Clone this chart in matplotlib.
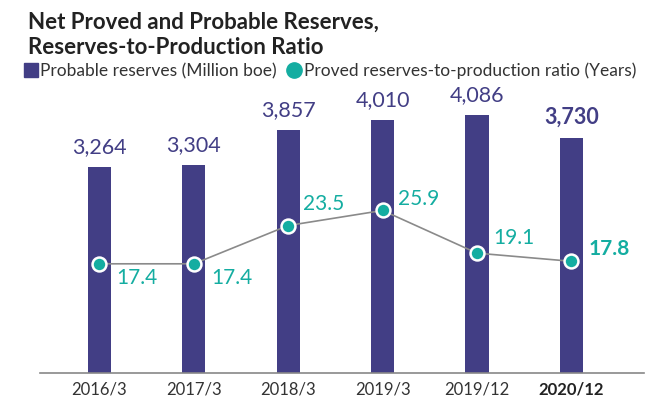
import matplotlib
matplotlib.use("Agg")
import matplotlib.pyplot as plt
from matplotlib.lines import Line2D

plt.rcParams['font.family'] = ['Lato', 'DejaVu Sans']

categories = ["2016/3", "2017/3", "2018/3", "2019/3", "2019/12", "2020/12"]
reserves = [3264, 3304, 3857, 4010, 4086, 3730]
ratio = [17.4, 17.4, 23.5, 25.9, 19.1, 17.8]
reserve_labels = ["3,264", "3,304", "3,857", "4,010", "4,086", "3,730"]
ratio_labels = ["17.4", "17.4", "23.5", "25.9", "19.1", "17.8"]
ratio_offsets = [(17, -14), (17, -14), (15, 22), (15, 11), (16, 15), (17, 12)]

BAR = "#423E85"
TEAL = "#14ADA1"
LINE = "#8A8A8A"

W, H = 668, 403
fig = plt.figure(figsize=(W / 100, H / 100), dpi=100)
left, right, bottom, top = 40, 644, 373, 95
ax = fig.add_axes([left / W, 1 - bottom / H, (right - left) / W, (bottom - top) / H])

x = list(range(len(categories)))
ax.bar(x, reserves, width=0.245, color=BAR, zorder=2)
ax.set_xlim(-0.63, 5.77)
ax.set_ylim(0, 4406)
for i, (v, s) in enumerate(zip(reserves, reserve_labels)):
    last = i == len(categories) - 1
    ax.annotate(s, (i, v), xytext=(0, 7), textcoords="offset points",
                ha="center", va="bottom", fontsize=15.5, color=BAR,
                fontweight="bold" if last else "normal")

for side in ["top", "right", "left"]:
    ax.spines[side].set_visible(False)
ax.spines["bottom"].set_color("#888888")
ax.spines["bottom"].set_linewidth(1.2)
ax.set_yticks([])
ax.set_xticks(x)
ax.set_xticklabels(categories, fontsize=12, color="#333333")
ax.tick_params(axis="x", length=0, pad=6)
ax.get_xticklabels()[-1].set_fontweight("bold")
ax.get_xticklabels()[-1].set_color("#222222")

ax2 = ax.twinx()
ax2.set_ylim(0, 44.3)
ax2.axis("off")
ax2.plot(x, ratio, color=LINE, lw=1.2, zorder=3)
ax2.plot(x, ratio, linestyle="none", marker="o", markersize=10,
         markerfacecolor=TEAL, markeredgecolor="white", markeredgewidth=1.8, zorder=4)
for i, (v, s) in enumerate(zip(ratio, ratio_labels)):
    last = i == len(categories) - 1
    dx, dy = ratio_offsets[i]
    ax2.annotate(s, (i, v), xytext=(dx * 0.72, dy * 0.72), textcoords="offset points",
                 ha="left", va="center", fontsize=15, color=TEAL,
                 fontweight="bold" if last else "normal")

fig.text(28 / W, 1 - 29 / H, "Net Proved and Probable Reserves,",
         fontsize=16, fontweight="bold", color="#222222", ha="left", va="baseline")
fig.text(28 / W, 1 - 54 / H, "Reserves-to-Production Ratio",
         fontsize=16, fontweight="bold", color="#222222", ha="left", va="baseline")

handles = [
    Line2D([], [], marker="s", linestyle="none", markersize=10, color=BAR),
    Line2D([], [], marker="o", linestyle="none", markersize=11, color=TEAL),
]
fig.legend(handles, ["Probable reserves (Million boe)", "Proved reserves-to-production ratio (Years)"],
           loc="center left", bbox_to_anchor=(24 / W, 1 - 71 / H), ncol=2, frameon=False,
           fontsize=12.5, handlelength=0.8, handletextpad=0.15, columnspacing=0.6,
           labelcolor="#333333", borderaxespad=0, borderpad=0)

fig.savefig("out.png", dpi=100)
